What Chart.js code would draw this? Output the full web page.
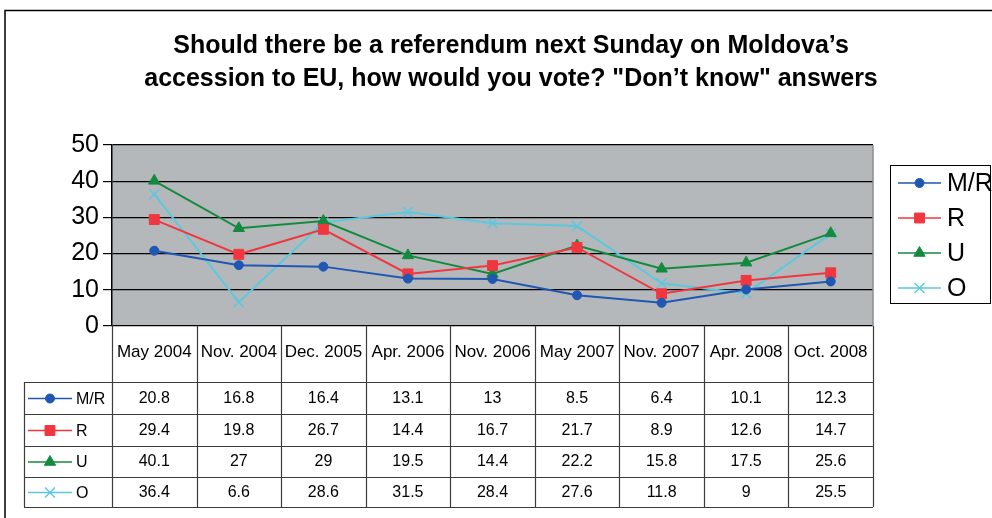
<!DOCTYPE html>
<html>
<head>
<meta charset="utf-8">
<title>Moldova EU referendum - Don't know answers</title>
<script src="https://cdn.jsdelivr.net/npm/chart.js@4/dist/chart.umd.min.js"></script>
<style>
  html, body { margin: 0; padding: 0; background: #fff; }
  #wrap { width: 992px; height: 518px; position: relative; }
</style>
</head>
<body>
<div id="wrap"><canvas id="chart"></canvas></div>
<script>
// Survey waves
const categories = ['May 2004', 'Nov. 2004', 'Dec. 2005', 'Apr. 2006', 'Nov. 2006', 'May 2007', 'Nov. 2007', 'Apr. 2008', 'Oct. 2008'];

// "Don't know" shares per group, %
const mrValues = [20.8, 16.8, 16.4, 13.1, 13, 8.5, 6.4, 10.1, 12.3];
const rValues  = [29.4, 19.8, 26.7, 14.4, 16.7, 21.7, 8.9, 12.6, 14.7];
const uValues  = [40.1, 27, 29, 19.5, 14.4, 22.2, 15.8, 17.5, 25.6];
const oValues  = [36.4, 6.6, 28.6, 31.5, 28.4, 27.6, 11.8, 9, 25.5];

const yTicks = [0, 10, 20, 30, 40, 50];

const titleLines = ['Should there be a referendum next Sunday on Moldova\u2019s', 'accession to EU, how would you vote? "Don\u2019t know" answers'];

const FONT = '"Liberation Sans", Arial, sans-serif';

function marker(ctx, ds, x, y) {
    const opts = {
        pointStyle: ds.pointStyle,
        radius: ds.pointRadius,
        rotation: 0,
        borderWidth: ds.pointBorderWidth
    };
    ctx.save();
    ctx.fillStyle = ds.pointBackgroundColor;
    ctx.strokeStyle = ds.pointBorderColor;
    ctx.lineWidth = ds.pointBorderWidth;
    Chart.helpers.drawPoint(ctx, opts, x, y);
    ctx.restore();
}

function keySample(ctx, ds, x1, x2, y) {
    ctx.save();
    ctx.strokeStyle = ds.borderColor;
    ctx.lineWidth = 1.5;
    ctx.beginPath();
    ctx.moveTo(x1, y);
    ctx.lineTo(x2, y);
    ctx.stroke();
    ctx.restore();
    marker(ctx, ds, (x1 + x2) / 2, y);
}

// gray plot background + outer frame
const backdrop = {
    id: 'backdrop',
    beforeDraw(chart) {
        const { ctx, chartArea: a } = chart;
        ctx.save();
        ctx.fillStyle = '#b5b8bb';
        ctx.fillRect(a.left, a.top, a.right - a.left, a.bottom - a.top);
        ctx.strokeStyle = '#000';
        ctx.lineWidth = 1.5;
        ctx.beginPath();
        ctx.moveTo(5, 518);
        ctx.lineTo(5, 10.5);
        ctx.lineTo(992, 10.5);
        ctx.stroke();
        ctx.restore();
    }
};

// title, legend box and data table under the plot
const extras = {
    id: 'extras',
    afterDraw(chart) {
        const { ctx, chartArea: a } = chart;
        const sets = chart.data.datasets;
        const n = categories.length;
        const colW = (a.right - a.left) / n;

        ctx.save();
        // title
        ctx.fillStyle = '#000';
        ctx.font = 'bold 25px ' + FONT;
        ctx.textAlign = 'center';
        ctx.textBaseline = 'middle';
        ctx.fillText(titleLines[0], 511, 46);
        ctx.fillText(titleLines[1], 511, 79);

        // right edge of plot
        ctx.strokeStyle = '#8c8c8c';
        ctx.lineWidth = 1.5;
        ctx.beginPath();
        ctx.moveTo(a.right, a.top);
        ctx.lineTo(a.right, a.bottom);
        ctx.stroke();

        // table grid
        const headTop = a.bottom;
        const rowTops = [382, 414, 446, 477, 507];
        const keyLeft = 24;
        ctx.strokeStyle = '#3c3c3c';
        ctx.lineWidth = 1.2;
        ctx.beginPath();
        for (let i = 0; i <= n; i++) {
            const x = Math.round(a.left + i * colW) + 0.5;
            ctx.moveTo(x, headTop);
            ctx.lineTo(x, rowTops[4]);
        }
        ctx.moveTo(keyLeft + 0.5, rowTops[0]);
        ctx.lineTo(keyLeft + 0.5, rowTops[4]);
        rowTops.forEach(y => {
            ctx.moveTo(keyLeft, y + 0.5);
            ctx.lineTo(a.right, y + 0.5);
        });
        ctx.stroke();

        // category labels
        ctx.font = '17px ' + FONT;
        ctx.fillStyle = '#000';
        categories.forEach((c, i) => {
            ctx.fillText(c, chart.scales.x.getPixelForValue(i), 352);
        });

        // value rows
        ctx.font = '16px ' + FONT;
        sets.forEach((ds, r) => {
            const yc = (rowTops[r] + rowTops[r + 1]) / 2 + 0.5;
            ctx.textAlign = 'center';
            ds.data.forEach((v, i) => {
                ctx.fillText(String(v), chart.scales.x.getPixelForValue(i), yc);
            });
            keySample(ctx, ds, 28, 72, yc);
            ctx.textAlign = 'left';
            ctx.fillStyle = '#000';
            ctx.fillText(ds.label, 76, yc + 1);
        });

        // legend box
        ctx.strokeStyle = '#000';
        ctx.lineWidth = 1;
        ctx.strokeRect(890.5, 165.5, 100, 138);
        const legendY = [183, 218, 253, 288];
        ctx.font = '25px ' + FONT;
        sets.forEach((ds, r) => {
            keySample(ctx, ds, 898, 941, legendY[r]);
            ctx.fillStyle = '#000';
            ctx.textAlign = 'left';
            ctx.fillText(ds.label, 947, legendY[r] + 1);
        });
        ctx.restore();
    }
};

function series(label, data, color, style, radius, pointFill) {
    return {
        label: label,
        data: data,
        borderColor: color,
        backgroundColor: color,
        borderWidth: 2,
        pointStyle: style,
        pointRadius: radius,
        pointHoverRadius: radius,
        pointBackgroundColor: pointFill,
        pointBorderColor: color,
        pointBorderWidth: style === 'crossRot' ? 1.5 : 1,
        tension: 0
    };
}

new Chart(document.getElementById('chart'), {
    type: 'line',
    data: {
        labels: categories,
        datasets: [
            series('M/R', mrValues, '#1f57b3', 'circle', 4.5, '#1f57b3'),
            series('R', rValues, '#f0373f', 'rect', 7, '#f0373f'),
            series('U', uValues, '#148a3e', 'triangle', 6.5, '#148a3e'),
            series('O', oValues, '#5cc8dd', 'crossRot', 7, '#5cc8dd')
        ]
    },
    options: {
        responsive: true,
        maintainAspectRatio: false,
        animation: false,
        layout: { padding: { top: 145, right: 119, bottom: 192, left: 0 } },
        plugins: {
            legend: { display: false },
            title: { display: false },
            tooltip: { enabled: false }
        },
        scales: {
            x: {
                display: false,
                offset: true
            },
            y: {
                min: 0,
                max: 50,
                afterFit(scale) { scale.width = 112; },
                afterBuildTicks(scale) { scale.ticks = yTicks.map(v => ({ value: v })); },
                border: { display: true, color: '#000', width: 1.5 },
                grid: { color: '#000', lineWidth: 1.2, drawTicks: true, tickLength: 9 },
                ticks: {
                    color: '#000',
                    padding: 4,
                    font: { family: FONT, size: 25 }
                }
            }
        }
    },
    plugins: [backdrop, extras]
});
</script>
</body>
</html>
